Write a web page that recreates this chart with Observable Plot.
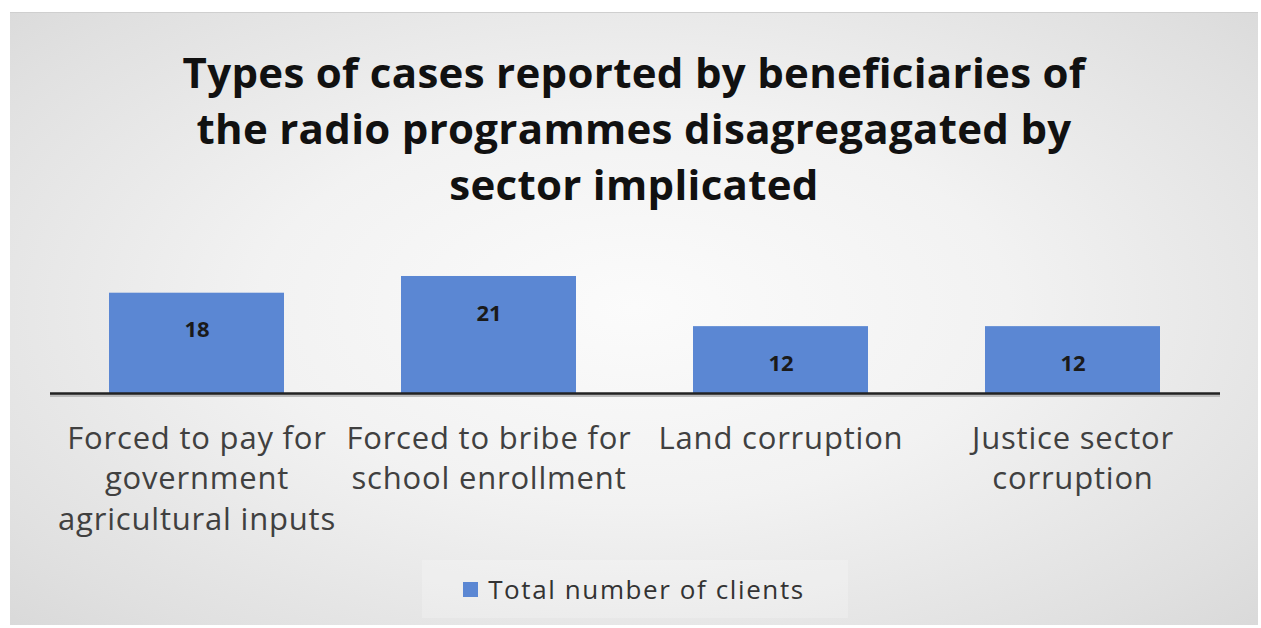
<!DOCTYPE html>
<html>
<head>
<meta charset="utf-8">
<script src="https://cdn.jsdelivr.net/npm/d3@7"></script>
<script src="https://cdn.jsdelivr.net/npm/@observablehq/plot@0.6"></script>
<style>
  html, body { margin: 0; padding: 0; background: #ffffff; }
  #frame {
    position: absolute; left: 10px; top: 12px; width: 1248px; height: 613px;
    background: radial-gradient(ellipse 75% 80% at 50% 48%, #fbfbfb 0%, #f2f2f2 40%, #e0e0e0 80%, #d6d6d6 100%);
    border-top: 1px solid #cfcfcf;
    box-sizing: border-box;
    overflow: hidden;
  }
  #title {
    position: absolute; left: 0; top: 31px; width: 100%;
    text-align: center; font-family: "Open Sans", sans-serif; font-weight: 700;
    font-size: 42px; line-height: 56px; color: #111; letter-spacing: 0.3px;
  }
  #chart { position: absolute; left: 0; top: 0; }
  #chart svg g[aria-label="x-axis tick label"] text { letter-spacing: 0.8px; }
  #legend {
    position: absolute; left: 412px; top: 547px; width: 426px; height: 58px;
    background: rgba(255,255,255,0.22); box-sizing: border-box;
    display: flex; align-items: center; justify-content: center;
    font-family: "Open Sans", sans-serif; font-size: 26px; color: #333; letter-spacing: 1.6px;
  }
  #legend .sw { width: 15px; height: 15px; background: #5b87d3; margin-right: 10px; margin-left: -2px; }
</style>
</head>
<body>
<div id="frame">
  <div id="chart"></div>
  <div id="title">Types of cases reported by beneficiaries of<br>the radio programmes disagregagated by<br>sector implicated</div>
  <div id="legend"><div class="sw"></div><span>Total number of clients</span></div>
</div>
<script>
const categories = ["Forced to pay for government agricultural inputs", "Forced to bribe for school enrollment", "Land corruption", "Justice sector corruption"];
const values = [18, 21, 12, 12];
const tickLabels = ["Forced to pay for\ngovernment\nagricultural inputs", "Forced to bribe for\nschool enrollment", "Land corruption", "Justice sector\ncorruption"];

const data = categories.map((c, i) => ({category: c, value: values[i], label: tickLabels[i]}));
const labelOf = new Map(categories.map((c, i) => [c, tickLabels[i]]));

const chart = Plot.plot({
  width: 1248,
  height: 548,
  marginLeft: 40,
  marginRight: 38,
  marginTop: 240.7,
  marginBottom: 168,
  style: {background: "transparent", overflow: "visible"},
  x: {domain: categories, paddingInner: 0.4, paddingOuter: 0.2, label: null},
  y: {domain: [0, 25], axis: null},
  marks: [
    Plot.barY(data, {x: "category", y: "value", fill: "#5b87d3"}),
    Plot.ruleY([0], {stroke: "#bbbbbb", strokeWidth: 3, dy: 2}),
    Plot.ruleY([0], {stroke: "#222222", strokeWidth: 2.5}),
    Plot.text(data, {x: "category", y: "value", text: d => String(d.value), dy: 37,
      fontSize: 22, fontWeight: "bold", fill: "#1a1a1a", fontFamily: "'Open Sans', sans-serif"}),
    Plot.axisX({tickSize: 0, tickPadding: 26, tickFormat: c => labelOf.get(c), fontSize: 31,
      lineHeight: 1.32, fill: "#404040", fontFamily: "'Open Sans', sans-serif", label: null})
  ]
});
document.getElementById("chart").appendChild(chart);
</script>
</body>
</html>
